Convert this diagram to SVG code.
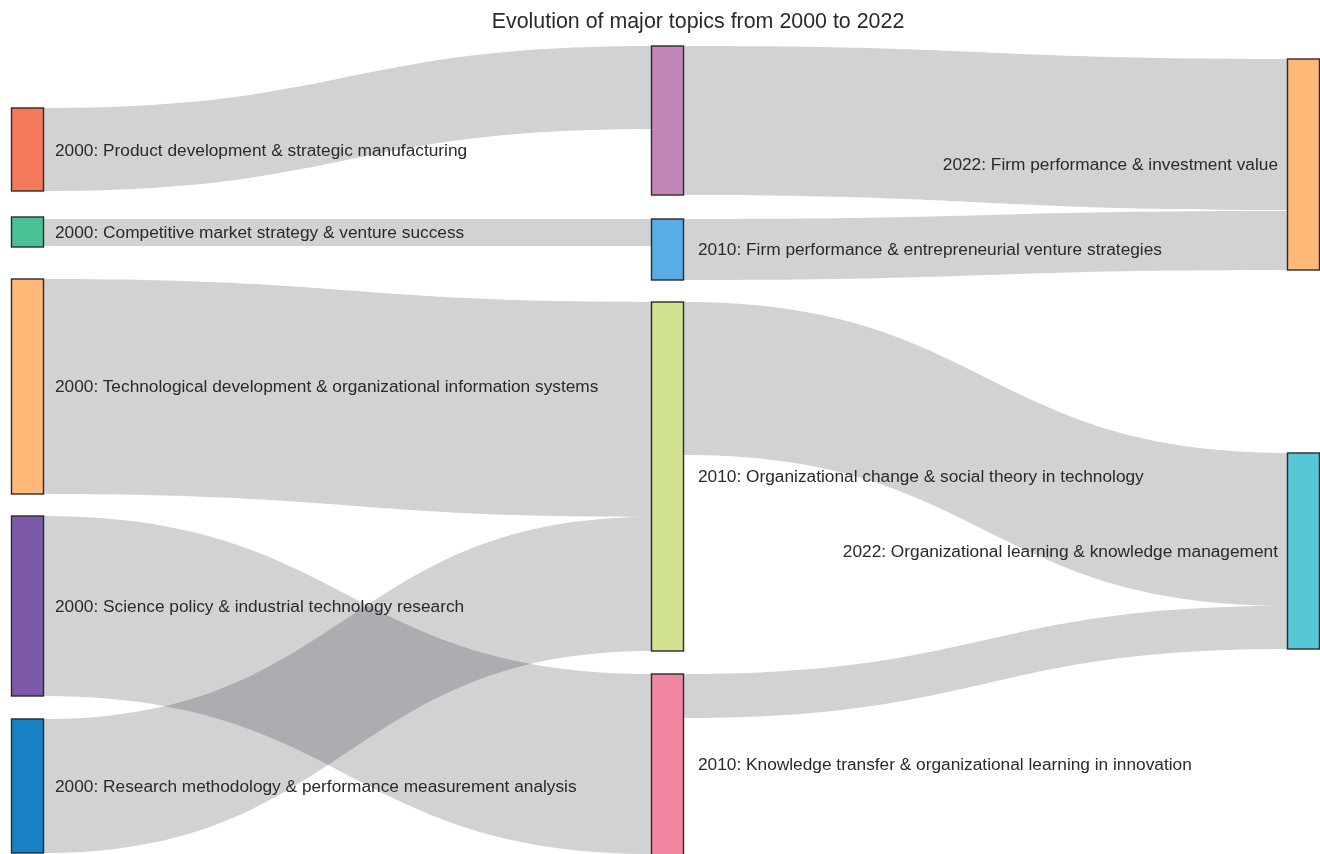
<svg xmlns="http://www.w3.org/2000/svg" width="1320" height="854" viewBox="0 0 1320 854">
<style>
text{font-family:"Liberation Sans",Arial,sans-serif;fill:#2a2a2a;}
.lbl{font-size:17.3px;}
.title{font-size:21.4px;}
.node{stroke:#2b2b2b;stroke-width:1.4;}
.link{fill:#d1d2d4;mix-blend-mode:multiply;}
</style>
<rect width="1320" height="854" fill="#fff"/>
<g id="links">
<path class="link" d="M43.5,108 C347.5,108 347.5,46 651.5,46 L651.5,129 C347.5,129 347.5,191 43.5,191 Z"/>
<path class="link" d="M43.5,219 C347.5,219 347.5,219 651.5,219 L651.5,246 C347.5,246 347.5,246 43.5,246 Z"/>
<path class="link" d="M43.5,279 C347.5,279 347.5,302 651.5,302 L651.5,517 C347.5,517 347.5,494 43.5,494 Z"/>
<path class="link" d="M43.5,516 C347.5,516 347.5,674 651.5,674 L651.5,854 C347.5,854 347.5,696 43.5,696 Z"/>
<path class="link" d="M43.5,719 C347.5,719 347.5,517 651.5,517 L651.5,651 C347.5,651 347.5,853 43.5,853 Z"/>
<path class="link" d="M683.5,46 C985.5,46 985.5,59 1287.5,59 L1287.5,210 C985.5,210 985.5,195 683.5,195 Z"/>
<path class="link" d="M683.5,219 C985.5,219 985.5,211 1287.5,211 L1287.5,270 C985.5,270 985.5,280 683.5,280 Z"/>
<path class="link" d="M683.5,302 C985.5,302 985.5,453 1287.5,453 L1287.5,606 C985.5,606 985.5,455 683.5,455 Z"/>
<path class="link" d="M683.5,674 C985.5,674 985.5,606 1287.5,606 L1287.5,649 C985.5,649 985.5,718 683.5,718 Z"/>
</g>
<g id="n-l1"><rect class="node" x="11.5" y="108" width="32" height="83" fill="#f47a5b"/><text class="lbl" x="55" y="156">2000: Product development &amp; strategic manufacturing</text></g>
<g id="n-l2"><rect class="node" x="11.5" y="217" width="32" height="30" fill="#4bc196"/><text class="lbl" x="55" y="238">2000: Competitive market strategy &amp; venture success</text></g>
<g id="n-l3"><rect class="node" x="11.5" y="279" width="32" height="215" fill="#ffb877"/><text class="lbl" x="55" y="392">2000: Technological development &amp; organizational information systems</text></g>
<g id="n-l4"><rect class="node" x="11.5" y="516" width="32" height="180" fill="#7b58a8"/><text class="lbl" x="55" y="612">2000: Science policy &amp; industrial technology research</text></g>
<g id="n-l5"><rect class="node" x="11.5" y="719" width="32" height="134" fill="#1880c4"/><text class="lbl" x="55" y="792">2000: Research methodology &amp; performance measurement analysis</text></g>
<g id="n-m1"><rect class="node" x="651.5" y="46" width="32" height="149" fill="#c386b9"/></g>
<g id="n-m2"><rect class="node" x="651.5" y="219" width="32" height="61" fill="#58aee4"/><text class="lbl" x="698" y="255">2010: Firm performance &amp; entrepreneurial venture strategies</text></g>
<g id="n-m3"><rect class="node" x="651.5" y="302" width="32" height="349" fill="#d1e290"/><text class="lbl" x="698" y="482">2010: Organizational change &amp; social theory in technology</text></g>
<g id="n-m5"><rect class="node" x="651.5" y="674" width="32" height="182" fill="#f286a0"/><text class="lbl" x="698" y="770">2010: Knowledge transfer &amp; organizational learning in innovation</text></g>
<g id="n-r1"><rect class="node" x="1287.5" y="59" width="32" height="211" fill="#ffb877"/><text class="lbl" x="1278" y="170" text-anchor="end">2022: Firm performance &amp; investment value</text></g>
<g id="n-r2"><rect class="node" x="1287.5" y="453" width="32" height="196" fill="#56c7d7"/><text class="lbl" x="1278" y="557" text-anchor="end">2022: Organizational learning &amp; knowledge management</text></g>
<text class="title" x="698" y="28" text-anchor="middle">Evolution of major topics from 2000 to 2022</text>
</svg>
